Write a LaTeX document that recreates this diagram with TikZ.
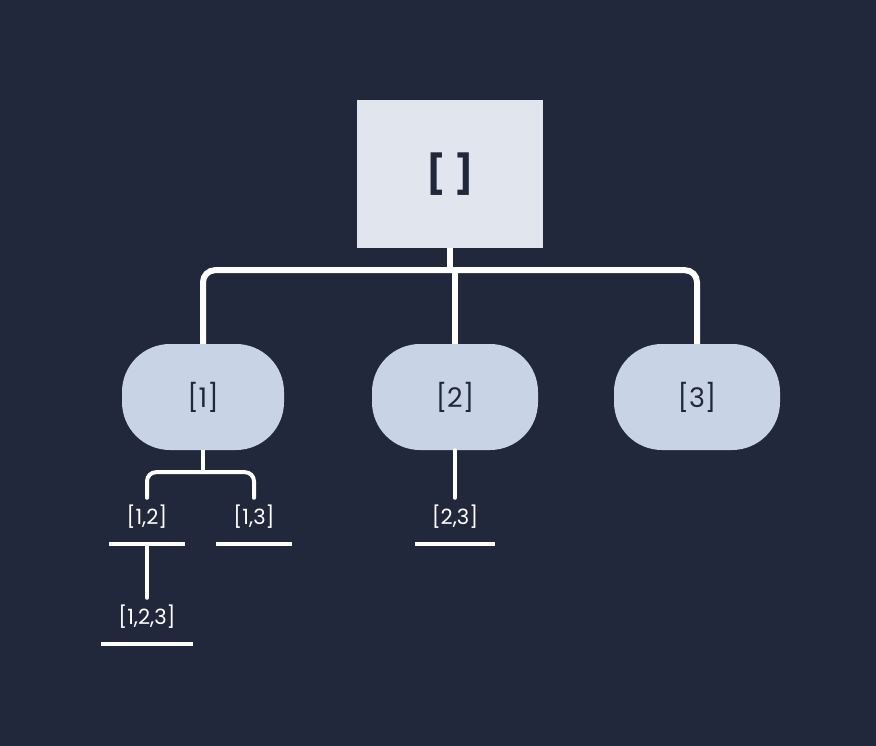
\documentclass[tikz,border=0pt]{standalone}
\usepackage{fontspec}
\setmainfont{Poppins}
\usepackage{tikz}
\usetikzlibrary{calc}
\definecolor{bgnavy}{RGB}{34,40,59}
\definecolor{rootgray}{RGB}{225,230,238}
\definecolor{pillblue}{RGB}{200,211,229}
\tikzset{
  rootbox/.style={fill=rootgray, minimum width=186pt, minimum height=148pt, inner sep=0pt, text=bgnavy, font=\fontsize{38}{38}\selectfont\bfseries},
  pill/.style={fill=pillblue, rounded corners=48pt, minimum width=162pt, minimum height=106pt, inner sep=0pt, text=bgnavy, font=\fontsize{27}{27}\selectfont},
  leaf/.style={text=white, font=\fontsize{21}{21}\selectfont, anchor=base, inner xsep=17pt, inner ysep=0pt, text height=26pt, text depth=20pt},
  mainlink/.style={draw=white, line width=6pt},
  sublink/.style={draw=white, line width=4pt, line cap=round},
  uline/.style={draw=white, line width=4pt}
}
\begin{document}
\begin{tikzpicture}[x=1pt,y=1pt,yscale=-1,xscale=1]
\fill[bgnavy] (0,0) rectangle (876,746);
\useasboundingbox (0,0) rectangle (876,746);

% Root and first level
\node [rootbox] (root) at (450,174) {[ ]};
\node [pill] (n1) at (203,397) {[1]};
\node [pill, minimum width=166pt] (n2) at (455,397) {[2]};
\node [pill, minimum width=166pt] (n3) at (697,397) {[3]};

% Leaves
\node [leaf] (l12) at (147,524) {[1,2]};
\node [leaf] (l13) at (254,524) {[1,3]};
\node [leaf] (l23) at (455,524) {[2,3]};
\node [leaf] (l123) at (147,624) {[1,2,3]};

% Underlines
\foreach \n in {l12,l13,l23,l123}
  \draw [uline] (\n.south west) -- (\n.south east);

% Links from root
\coordinate (bar) at ($(root.south)+(0,22)$);
\draw [mainlink] (root.south) -- (bar);
\draw [mainlink, rounded corners=12pt] (bar) -| (n1.north);
\draw [mainlink, rounded corners=12pt] (bar) -| (n3.north);
\draw [mainlink] (bar -| n2.north) -- (n2.north);

% Links below [1] and [2]
\coordinate (fork) at ($(n1.south)+(0,22)$);
\draw [sublink, line cap=butt] (n1.south) -- (fork);
\draw [sublink, rounded corners=9pt] (fork) -| (l12.north);
\draw [sublink, rounded corners=9pt] (fork) -| (l13.north);
\draw [sublink] (n2.south) -- (l23.north);
\draw [sublink] (l12.south) -- (l123.north);

\end{tikzpicture}
\end{document}
